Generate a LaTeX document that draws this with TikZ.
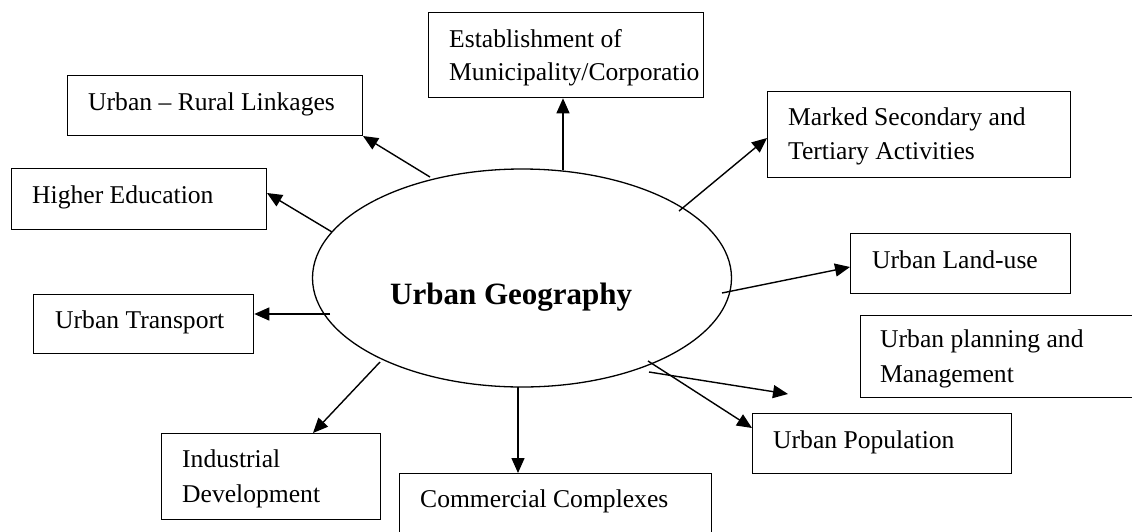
\documentclass[tikz,border=0pt]{standalone}
\usepackage{fontspec}
\setmainfont{Liberation Serif}
\usetikzlibrary{arrows.meta,shapes.geometric}
\tikzset{
  bx/.style={draw, line width=1.3pt, inner sep=0pt, anchor=north west},
  lbl/.style={anchor=base west, inner sep=0pt, font=\fontsize{25.6}{30}\selectfont},
  arr/.style={line width=1.4pt, -{Triangle[length=15pt,width=13pt]}},
}
\begin{document}
\begin{tikzpicture}[x=1pt,y=-1pt]
\useasboundingbox (0,0) rectangle (1132,531);
\clip (0,0) rectangle (1132,531);
% central ellipse
\node[draw, ellipse, line width=1.3pt, minimum width=419pt, minimum height=218pt, inner sep=0pt] (ug) at (522,278) {};
\node[anchor=base west, inner sep=0pt, font=\fontsize{31}{36}\selectfont\bfseries] (ugt) at (390,304) {Urban Geography};
% boxes
\node[bx, minimum width=275pt, minimum height=85pt] (est) at (428,12) {};
\node[bx, minimum width=295pt, minimum height=60pt] (url) at (67,75) {};
\node[bx, minimum width=255pt, minimum height=61pt] (hed) at (11,168) {};
\node[bx, minimum width=303pt, minimum height=86pt] (msa) at (767,91) {};
\node[bx, minimum width=220pt, minimum height=60pt] (lu) at (850,233) {};
\node[bx, minimum width=300pt, minimum height=82pt] (upm) at (860,315) {};
\node[bx, minimum width=220pt, minimum height=59pt] (tr) at (33,294) {};
\node[bx, minimum width=259pt, minimum height=60pt] (pop) at (752,413) {};
\node[bx, minimum width=219pt, minimum height=86pt] (ind) at (161,433) {};
\node[bx, minimum width=312pt, minimum height=80pt] (com) at (399,473) {};
% texts
\node[lbl] (estA) at (449,47) {Establishment of};
\node[lbl] (estB) at (449,80) {Municipality/Corporatio};
\node[lbl] (urlA) at (88,110) {Urban -- Rural Linkages};
\node[lbl] (hedA) at (32,203) {Higher Education};
\node[lbl] (msaA) at (788,125) {Marked Secondary and};
\node[lbl] (msaB) at (788,159) {Tertiary Activities};
\node[lbl] (luA) at (872,268) {Urban Land-use};
\node[lbl] (upmA) at (880,347) {Urban planning and};
\node[lbl] (upmB) at (880,382) {Management};
\node[lbl] (trA) at (55,328) {Urban Transport};
\node[lbl] (popA) at (773,448) {Urban Population};
\node[lbl] (indA) at (182,467) {Industrial};
\node[lbl] (indB) at (182,502) {Development};
\node[lbl] (comA) at (420,507) {Commercial Complexes};
% connector ends
\coordinate (sEst) at (563,170);
\coordinate (sUrl) at (430,177);
\coordinate (tUrl) at (363,136);
\coordinate (sHed) at (332,232);
\coordinate (tHed) at (267,193);
\coordinate (sMsa) at (679,211);
\coordinate (tMsa) at (767,138);
\coordinate (sLu) at (722,293);
\coordinate (tLu) at (850,267);
\coordinate (sFree) at (649,372);
\coordinate (tFree) at (788,394);
\coordinate (sPop) at (648,361);
\coordinate (tPop) at (752,428);
\coordinate (sCom) at (518,387);
\coordinate (sInd) at (380,362);
\coordinate (tInd) at (313,433);
\coordinate (sTr) at (330,314);
% connectors
\draw[arr] (sEst) -- (sEst |- est.south);
\draw[arr] (sUrl) -- (tUrl);
\draw[arr] (sHed) -- (tHed);
\draw[arr] (sMsa) -- (tMsa);
\draw[arr] (sLu) -- (tLu);
\draw[arr] (sFree) -- (tFree);
\draw[arr] (sPop) -- (tPop);
\draw[arr] (sCom) -- (sCom |- com.north);
\draw[arr] (sInd) -- (tInd);
\draw[arr] (sTr) -- (sTr -| tr.east);
\end{tikzpicture}
\end{document}
